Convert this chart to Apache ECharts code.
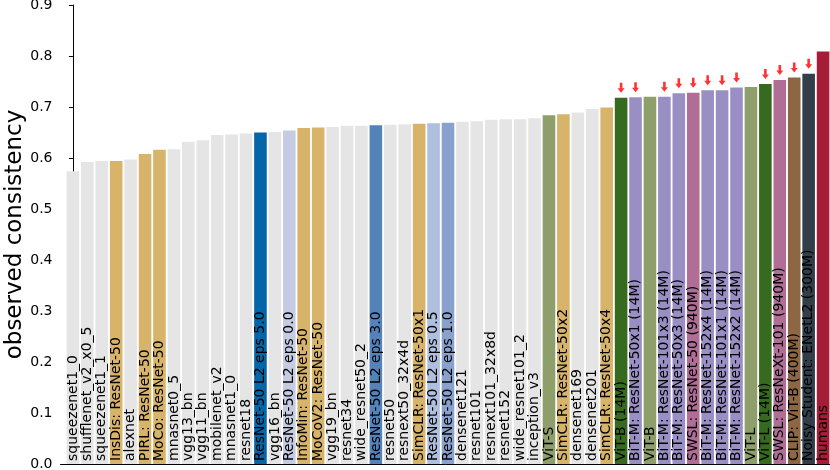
<!DOCTYPE html>
<html>
<head>
<meta charset="utf-8">
<script src="https://cdn.jsdelivr.net/npm/echarts@6/dist/echarts.min.js"></script>
<style>
  html, body { margin: 0; padding: 0; background: #fff; }
  #chart { width: 830px; height: 470px; }
</style>
</head>
<body>
<div id="chart"></div>
<script>
// model names, left to right
const categories = [
  "squeezenet1_0", "shufflenet_v2_x0_5", "squeezenet1_1", "InsDis: ResNet-50", "alexnet",
  "PIRL: ResNet-50", "MoCo: ResNet-50", "mnasnet0_5", "vgg13_bn", "vgg11_bn",
  "mobilenet_v2", "mnasnet1_0", "resnet18", "ResNet-50 L2 eps 5.0", "vgg16_bn",
  "ResNet-50 L2 eps 0.0", "InfoMin: ResNet-50", "MoCoV2: ResNet-50", "vgg19_bn", "resnet34",
  "wide_resnet50_2", "ResNet-50 L2 eps 3.0", "resnet50", "resnext50_32x4d", "SimCLR: ResNet-50x1",
  "ResNet-50 L2 eps 0.5", "ResNet-50 L2 eps 1.0", "densenet121", "resnet101", "resnext101_32x8d",
  "resnet152", "wide_resnet101_2", "inception_v3", "ViT-S", "SimCLR: ResNet-50x2",
  "densenet169", "densenet201", "SimCLR: ResNet-50x4", "ViT-B (14M)", "BiT-M: ResNet-50x1 (14M)",
  "ViT-B", "BiT-M: ResNet-101x3 (14M)", "BiT-M: ResNet-50x3 (14M)", "SWSL: ResNet-50 (940M)", "BiT-M: ResNet-152x4 (14M)",
  "BiT-M: ResNet-101x1 (14M)", "BiT-M: ResNet-152x2 (14M)", "ViT-L", "ViT-L (14M)", "SWSL: ResNeXt-101 (940M)",
  "CLIP: ViT-B (400M)", "Noisy Student: ENetL2 (300M)", "humans"
];

// observed consistency per model
const consistency = [
  0.574, 0.592, 0.594, 0.594, 0.597,
  0.608, 0.616, 0.617, 0.632, 0.635,
  0.645, 0.646, 0.648, 0.650, 0.651,
  0.654, 0.659, 0.660, 0.661, 0.663,
  0.663, 0.664, 0.665, 0.666, 0.667,
  0.668, 0.669, 0.671, 0.672, 0.675,
  0.676, 0.676, 0.678, 0.684, 0.686,
  0.689, 0.696, 0.699, 0.718, 0.719,
  0.720, 0.720, 0.727, 0.728, 0.733,
  0.733, 0.738, 0.739, 0.745, 0.753,
  0.758, 0.765, 0.809
];

// model family
const families = [
  "standard", "standard", "standard", "selfsup", "standard",
  "selfsup", "selfsup", "standard", "standard", "standard",
  "standard", "standard", "standard", "eps5.0", "standard",
  "eps0.0", "selfsup", "selfsup", "standard", "standard",
  "standard", "eps3.0", "standard", "standard", "selfsup",
  "eps0.5", "eps1.0", "standard", "standard", "standard",
  "standard", "standard", "standard", "vit", "selfsup",
  "standard", "standard", "selfsup", "vit14m", "bit",
  "vit", "bit", "bit", "swsl", "bit",
  "bit", "bit", "vit", "vit14m", "swsl",
  "clip", "noisy", "human"
];

// trained on large datasets (marked by a red arrow)
const largeData = [
  0, 0, 0, 0, 0, 0, 0, 0, 0, 0,
  0, 0, 0, 0, 0, 0, 0, 0, 0, 0,
  0, 0, 0, 0, 0, 0, 0, 0, 0, 0,
  0, 0, 0, 0, 0, 0, 0, 0, 1, 1,
  0, 1, 1, 1, 1, 1, 1, 0, 1, 1,
  1, 1, 0
];

const yTicks = [0.0, 0.9, 0.1];   // min, max, step

// colours per family
const palette = {
  standard: "#e5e5e5",
  selfsup: "#d8b46b",
  "eps5.0": "#0466a8",
  "eps0.0": "#c5cbe3",
  "eps3.0": "#5483bb",
  "eps0.5": "#afbfde",
  "eps1.0": "#89a2cd",
  vit: "#8f9f6c",
  vit14m: "#366b1f",
  bit: "#9a8fc4",
  swsl: "#b06e96",
  clip: "#8d6743",
  noisy: "#323f4a",
  human: "#a51d36"
};

const FONT = "DejaVu Sans";
const chart = echarts.init(document.getElementById("chart"), null, { renderer: "canvas" });

const barData = consistency.map((v, i) => ({
  value: [i, v],
  itemStyle: { color: palette[families[i]] }
}));

const arrowData = [];
consistency.forEach((v, i) => {
  if (largeData[i]) arrowData.push([i, v]);
});

const option = {
  animation: false,
  backgroundColor: "#fff",
  grid: { left: 60.5, right: 0, top: 5, bottom: 6, containLabel: false, outerBoundsMode: "none" },
  xAxis: {
    type: "value",
    min: -0.86,
    max: 52.48,
    axisLine: { show: true, lineStyle: { color: "#000", width: 1 } },
    axisTick: { show: false },
    axisLabel: { show: false },
    splitLine: { show: false }
  },
  yAxis: {
    type: "value",
    min: yTicks[0],
    max: yTicks[1],
    interval: yTicks[2],
    name: "observed consistency",
    nameLocation: "middle",
    nameGap: 34,
    nameMoveOverlap: false,
    nameTextStyle: { fontFamily: FONT, fontSize: 23, color: "#000" },
    axisLine: { show: true, lineStyle: { color: "#000", width: 1 } },
    axisTick: { show: true, length: 4, lineStyle: { color: "#000" } },
    axisLabel: {
      fontFamily: FONT, fontSize: 14, color: "#000", margin: 8,
      formatter: (v) => v.toFixed(1)
    },
    splitLine: { show: false }
  },
  series: [
    {
      type: "bar",
      data: barData,
      barWidth: 12.6,
      label: {
        show: true,
        position: "insideBottom",
        rotate: 90,
        align: "left",
        verticalAlign: "middle",
        distance: 3,
        fontFamily: FONT,
        fontSize: 14,
        color: "#000",
        formatter: (p) => categories[p.value[0]]
      }
    },
    {
      type: "scatter",
      data: arrowData,
      symbol: "path://M-1.3,0 L1.3,0 L1.3,5.5 L3.5,5.5 L0,10 L-3.5,5.5 L-1.3,5.5 Z",
      symbolSize: [7, 10],
      symbolOffset: [0, -10],
      itemStyle: { color: "#ff0000" },
      z: 5
    }
  ]
};

chart.setOption(option);
</script>
</body>
</html>
